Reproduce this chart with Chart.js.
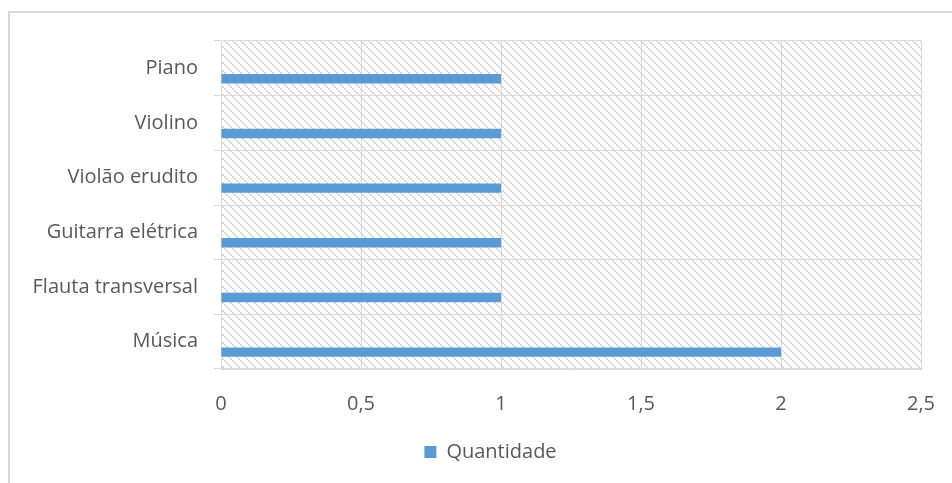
<!DOCTYPE html>
<html>
<head>
<meta charset="utf-8">
<script src="https://cdn.jsdelivr.net/npm/chart.js@4/dist/chart.umd.min.js"></script>
<style>
html,body{margin:0;padding:0;background:#fff;}
#wrap{position:relative;width:952px;height:483px;}
</style>
</head>
<body>
<div id="wrap"><canvas id="c" width="952" height="483"></canvas></div>
<script>
const categories = ['Piano', 'Violino', 'Violão erudito', 'Guitarra elétrica', 'Flauta transversal', 'Música'];
const quantidade = [1, 1, 1, 1, 1, 2];
const emptySeries = [null, null, null, null, null, null];
const xMin = 0, xMax = 2.5, xStep = 0.5;
const seriesName = 'Quantidade';

const FONT = '"Open Sans", Lato, sans-serif';
const FS = 20;
const TEXT = '#595959';
const GRID = '#d9d9d9';

function makePattern() {
  const t = document.createElement('canvas');
  t.width = 8; t.height = 8;
  const g = t.getContext('2d');
  g.fillStyle = '#ffffff';
  g.fillRect(0, 0, 8, 8);
  g.fillStyle = '#d9d9d9';
  for (let y = 0; y < 8; y++) {
    for (let x = 0; x < 8; x++) {
      const d = ((x >> 1) - (y >> 1) + 8) % 4;
      if (d === 0) g.fillRect(x, y, 1, 1);
    }
  }
  return g.createPattern(t, 'repeat');
}

const bgPlugin = {
  id: 'bg',
  beforeDraw(chart) {
    const {ctx, chartArea: a} = chart;
    ctx.save();
    ctx.fillStyle = '#ffffff';
    ctx.fillRect(0, 0, chart.width, chart.height);
    ctx.fillStyle = GRID;
    ctx.fillRect(8, 11, chart.width, 2);
    ctx.fillRect(8, 11, 2, chart.height);
    ctx.fillStyle = makePattern();
    ctx.fillRect(a.left, a.top, a.right - a.left, a.bottom - a.top);
    ctx.restore();
  }
};

const legendShift = {
  id: 'legendShift',
  afterLayout(chart) {
    const l = chart.legend;
    if (l) { l.left += 25; l.right += 25; }
  }
};

new Chart(document.getElementById('c'), {
  type: 'bar',
  data: {
    labels: categories,
    datasets: [
      { label: '', data: emptySeries, backgroundColor: 'rgba(0,0,0,0)' },
      { label: seriesName, data: quantidade, backgroundColor: '#5b9bd5', borderWidth: 0 }
    ]
  },
  plugins: [bgPlugin, legendShift],
  options: {
    indexAxis: 'y',
    responsive: false,
    animation: false,
    devicePixelRatio: 1,
    categoryPercentage: 0.764,
    barPercentage: 0.45,
    layout: { padding: { left: 10, right: 31, top: 41, bottom: 11 } },
    scales: {
      x: {
        min: xMin, max: xMax,
        ticks: {
          stepSize: xStep,
          color: TEXT,
          font: { family: FONT, size: FS },
          padding: 23,
          callback: v => String(v).replace('.', ',')
        },
        grid: { color: GRID, drawTicks: false, lineWidth: 1 },
        border: { color: GRID },
        afterFit(s) { s.height = 65; s.paddingLeft = 0; s.paddingRight = 0; }
      },
      y: {
        ticks: { color: TEXT, font: { family: FONT, size: FS }, padding: 16 },
        grid: { color: GRID, offset: true, tickLength: 7, lineWidth: 1 },
        border: { color: GRID },
        afterFit(s) { s.width = 211; s.paddingTop = 0; s.paddingBottom = 0; }
      }
    },
    plugins: {
      legend: {
        position: 'bottom',
        labels: {
          color: TEXT,
          font: { family: FONT, size: FS },
          boxWidth: 12, boxHeight: 12,
          padding: 8,
          filter: item => item.text !== ''
        }
      },
      tooltip: { enabled: false }
    }
  }
});
</script>
</body>
</html>
